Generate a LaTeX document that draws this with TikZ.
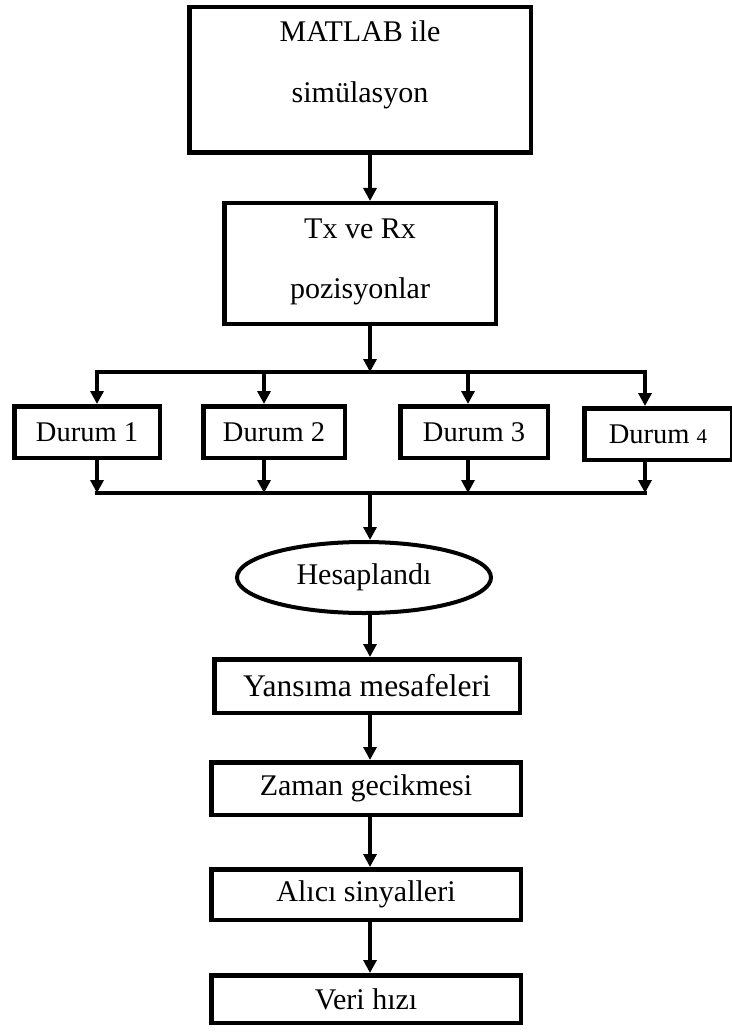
\documentclass[tikz,border=0pt]{standalone}
\usepackage{fontspec}
\setmainfont{Liberation Serif}
\usetikzlibrary{arrows.meta,shapes.geometric}
\tikzset{
  box/.style={draw=black, line width=4.5pt, fill=white, inner sep=0pt, rectangle},
  oval/.style={draw=black, line width=4pt, fill=white, inner sep=0pt, ellipse},
  txt/.style={inner sep=0pt, font=\fontsize{30}{36}\selectfont},
  dtxt/.style={font=\fontsize{28.5}{34}\selectfont},
  conn/.style={line width=3.5pt, -{Triangle[length=13pt,width=13pt]}},
  bar/.style={line width=3.5pt, line cap=rect}
}
\begin{document}
\begin{tikzpicture}[x=1pt,y=-1pt]
\useasboundingbox (0,0) rectangle (731,1032);
% boxes
\node[box, minimum width=341.5pt, minimum height=145.5pt] (top) at (360,80) {};
\node[txt, anchor=base] (t1) at (360,42) {MATLAB ile};
\node[txt, anchor=base] (t2) at (360,103) {simülasyon};
\node[box, minimum width=271.5pt, minimum height=120.5pt] (tx) at (360,263.5) {};
\node[txt, anchor=base] (t3) at (360,238) {Tx ve Rx};
\node[txt, anchor=base] (t4) at (360,298) {pozisyonlar};
\node[box, dtxt, minimum width=145.5pt, minimum height=51.5pt] (d1) at (87,432) {Durum 1};
\node[box, dtxt, minimum width=141.5pt, minimum height=51.5pt] (d2) at (274,432) {Durum 2};
\node[box, dtxt, minimum width=147.5pt, minimum height=51.5pt] (d3) at (474,432) {Durum 3};
\node[box, dtxt, minimum width=147.5pt, minimum height=51.5pt] (d4) at (658,434) {Durum {\fontsize{21}{25}\selectfont 4}};
\node[oval, txt, minimum width=254pt, minimum height=71pt] (hes) at (364,577.5) {Hesaplandı};
\node[box, font=\fontsize{31.5}{38}\selectfont, minimum width=305.5pt, minimum height=53.5pt] (yan) at (367,686) {Yansıma mesafeleri};
\node[box, txt, minimum width=309.5pt, minimum height=52.5pt] (zam) at (366,788.5) {Zaman gecikmesi};
\node[box, txt, minimum width=309.5pt, minimum height=50.5pt] (ali) at (366,894.5) {Alıcı sinyalleri};
\node[box, txt, minimum width=309.5pt, minimum height=47.5pt] (ver) at (366,999) {Veri hızı};
% junction coordinates
\coordinate (sc) at (370,372);
\coordinate (s1) at (97,372);
\coordinate (s2) at (264,372);
\coordinate (s3) at (468,372);
\coordinate (s4) at (645,372);
\coordinate (jc) at (370,493);
\coordinate (j1) at (97,493);
\coordinate (j2) at (264,493);
\coordinate (j3) at (468,493);
\coordinate (j4) at (645,493);
% connectors
\draw[conn] (top.south -| sc) -- (tx.north -| sc);
\draw[conn] (tx.south -| sc) -- (sc);
\draw[bar] (s1) -- (s4);
\draw[conn] (s1) -- (d1.north -| s1);
\draw[conn] (s2) -- (d2.north -| s2);
\draw[conn] (s3) -- (d3.north -| s3);
\draw[conn] (s4) -- (d4.north -| s4);
\draw[conn] (d1.south -| j1) -- (j1);
\draw[conn] (d2.south -| j2) -- (j2);
\draw[conn] (d3.south -| j3) -- (j3);
\draw[conn] (d4.south -| j4) -- (j4);
\draw[bar] (j1) -- (j4);
\draw[conn] (jc) -- (hes.north -| jc);
\draw[conn] (hes.south -| jc) -- (yan.north -| jc);
\draw[conn] (yan.south -| jc) -- (zam.north -| jc);
\draw[conn] (zam.south -| jc) -- (ali.north -| jc);
\draw[conn] (ali.south -| jc) -- (ver.north -| jc);
\end{tikzpicture}
\end{document}
